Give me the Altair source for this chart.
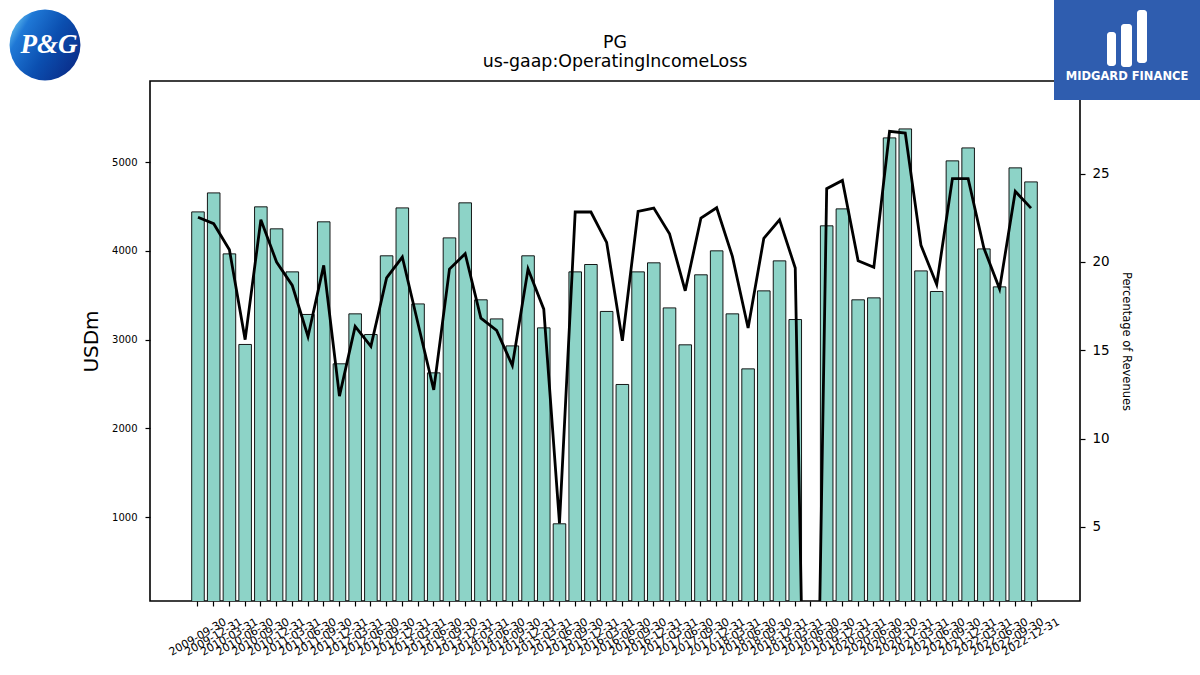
import altair as alt
import pandas as pd

dates = [
    "2009-09-30", "2009-12-31",
    "2010-03-31", "2010-06-30", "2010-09-30", "2010-12-31",
    "2011-03-31", "2011-06-30", "2011-09-30", "2011-12-31",
    "2012-03-31", "2012-06-30", "2012-09-30", "2012-12-31",
    "2013-03-31", "2013-06-30", "2013-09-30", "2013-12-31",
    "2014-03-31", "2014-06-30", "2014-09-30", "2014-12-31",
    "2015-03-31", "2015-06-30", "2015-09-30", "2015-12-31",
    "2016-03-31", "2016-06-30", "2016-09-30", "2016-12-31",
    "2017-03-31", "2017-06-30", "2017-09-30", "2017-12-31",
    "2018-03-31", "2018-06-30", "2018-09-30", "2018-12-31",
    "2019-03-31", "2019-06-30", "2019-09-30", "2019-12-31",
    "2020-03-31", "2020-06-30", "2020-09-30", "2020-12-31",
    "2021-03-31", "2021-06-30", "2021-09-30", "2021-12-31",
    "2022-03-31", "2022-06-30", "2022-09-30", "2022-12-31",
]

operating_income = [
    4440, 4654, 3967, 2946, 4497, 4249, 3764, 3284, 4328, 2728,
    3291, 3058, 3945, 4485, 3403, 2626, 4147, 4542, 3449, 3234,
    2930, 3945, 3133, 925, 3764, 3847, 3318, 2495, 3764, 3866,
    3358, 2942, 3731, 4001, 3291, 2671, 3550, 3888, 3227, -5021,
    4283, 4474, 3449, 3471, 5274, 5375, 3775, 3543, 5015, 5161,
    4023, 3595, 4936, 4778,
]

pct_revenues = [
    22.53, 22.17, 20.69, 15.6, 22.39, 20.0, 18.67, 15.78, 19.81, 12.4,
    16.35, 15.22, 19.1, 20.28, 16.5, 12.76, 19.6, 20.47, 16.82, 16.12,
    14.14, 19.6, 17.33, 5.2, 22.83, 22.83, 21.11, 15.54, 22.87, 23.05,
    21.6, 18.37, 22.49, 23.07, 20.32, 16.26, 21.34, 22.39, 19.66, -29.4,
    24.15, 24.62, 20.07, 19.7, 27.4, 27.3, 20.94, 18.73, 24.72, 24.72,
    20.79, 18.48, 24.0, 23.05,
]

left_ticks = [1000, 2000, 3000, 4000, 5000]
right_ticks = [5, 10, 15, 20, 25]

title_lines = ["PG", "us-gaap:OperatingIncomeLoss"]

df = pd.DataFrame({"date": dates, "income": operating_income, "pct": pct_revenues})

FONT = "DejaVu Sans"

x_enc = alt.X(
    "date:N",
    sort=None,
    scale=alt.Scale(paddingInner=0.2, paddingOuter=0, range=[41.7, 887.3]),
    axis=alt.Axis(
        title=None,
        labelAngle=-30,
        labelAlign="center",
        labelBaseline="middle",
        labelPadding=31,
        labelFontSize=11,
        labelFont=FONT,
        labelColor="black",
        labelOverlap=False,
        labelFlush=False,
        tickSize=5,
        tickWidth=1.2,
        tickColor="black",
        domain=False,
    ),
)

bars = alt.Chart(df).mark_bar(
    fill="#8dd3c7", stroke="black", strokeWidth=0.9, clip=True
).encode(
    x=x_enc,
    y=alt.Y(
        "income:Q",
        scale=alt.Scale(domain=[55, 5915], nice=False, zero=False),
        axis=alt.Axis(
            orient="left",
            values=left_ticks,
            format="d",
            title="USDm",
            titleFontSize=20,
            titleFontWeight="normal",
            titleFont=FONT,
            titleColor="black",
            titlePadding=10,
            labelFontSize=10,
            labelFont=FONT,
            labelColor="black",
            labelPadding=8,
            tickSize=5,
            tickWidth=1.2,
            tickColor="black",
            domain=False,
            grid=False,
        ),
    ),
)

line = alt.Chart(df).mark_line(
    color="black", strokeWidth=2.8, clip=True
).encode(
    x=alt.X("date:N", sort=None),
    y=alt.Y(
        "pct:Q",
        scale=alt.Scale(domain=[0.8, 30.25], nice=False, zero=False),
        axis=alt.Axis(
            orient="right",
            values=right_ticks,
            title="Percentage of Revenues",
            titleFontSize=11.5,
            titleFontWeight="normal",
            titleFont=FONT,
            titleColor="black",
            titlePadding=11,
            labelFontSize=13.5,
            labelFont=FONT,
            labelColor="black",
            labelPadding=7,
            tickSize=5,
            tickWidth=1.2,
            tickColor="black",
            domain=False,
            grid=False,
        ),
    ),
)

one = pd.DataFrame({"k": [0]})

# chart title drawn as text above the plot
title_df = pd.DataFrame({"t": title_lines, "yy": [-38, -19]})
title_text = alt.Chart(title_df).mark_text(
    font=FONT, fontSize=17.4, color="black", align="center", baseline="middle"
).encode(
    text="t:N",
    x=alt.value(465),
    y=alt.Y("yy:Q", scale=None),
)

# decorative logos (not data)
pg_circle = alt.Chart(one).mark_point(
    shape="circle",
    size=5027,
    filled=True,
    opacity=1,
    strokeWidth=0,
    fill=alt.Gradient(
        gradient="linear",
        x1=0, x2=1, y1=0.2, y2=0.8,
        stops=[
            alt.GradientStop(offset=0.0, color="#6cc8f2"),
            alt.GradientStop(offset=0.18, color="#1f78d6"),
            alt.GradientStop(offset=0.55, color="#0b4fb0"),
            alt.GradientStop(offset=1.0, color="#0a2a86"),
        ],
    ),
).encode(x=alt.value(-105), y=alt.value(-36))

pg_text = alt.Chart(one).mark_text(
    text="P&G", font="Liberation Serif", fontSize=27, fontWeight="bold",
    fontStyle="italic", color="white", align="center", baseline="middle",
).encode(x=alt.value(-101), y=alt.value(-36))

mid_box = alt.Chart(one).mark_rect(color="#2f5daf").encode(
    x=alt.value(904), x2=alt.value(1050), y=alt.value(-81), y2=alt.value(19)
)

icon_df = pd.DataFrame({
    "x1": [957, 971, 987], "x2": [966, 982, 997],
    "y1": [-49, -57, -71], "y2": [-15, -14, -18],
})
mid_icon = alt.Chart(icon_df).mark_rect(color="white", cornerRadius=3).encode(
    x=alt.X("x1:Q", scale=None), x2="x2:Q",
    y=alt.Y("y1:Q", scale=None), y2="y2:Q",
)

mid_text = alt.Chart(one).mark_text(
    text="MIDGARD FINANCE", font=FONT, fontSize=11.5, fontWeight="bold",
    color="white", align="center", baseline="middle",
).encode(x=alt.value(977), y=alt.value(-4))

chart = alt.layer(
    bars, line, title_text, pg_circle, pg_text, mid_box, mid_icon, mid_text
).resolve_scale(
    y="independent"
).properties(
    width=930,
    height=520,
    autosize=alt.AutoSizeParams(type="none"),
    padding={"left": 150, "top": 81, "right": 120, "bottom": 74},
    background="white",
).configure_view(
    stroke="black", strokeWidth=1.6
)

chart.save("out.html", embed_options={"renderer": "svg", "actions": False})
